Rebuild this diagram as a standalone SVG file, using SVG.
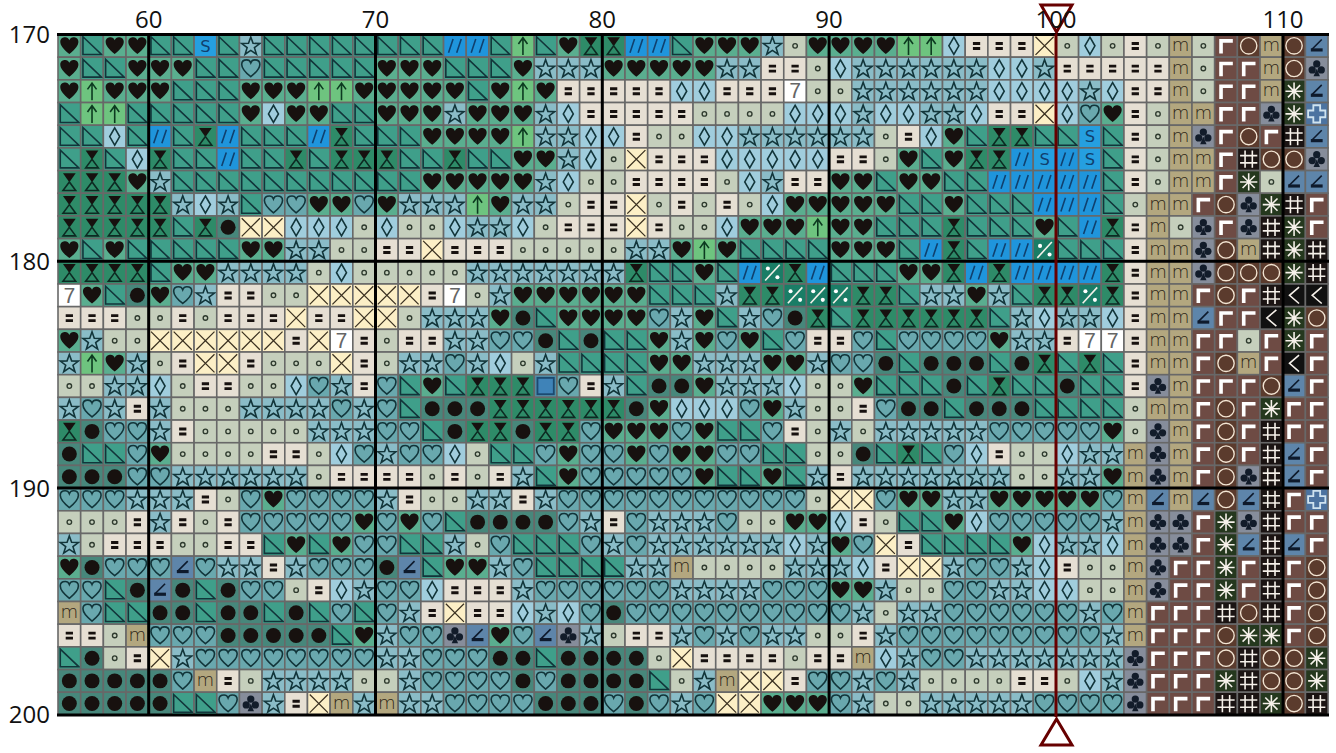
<svg xmlns="http://www.w3.org/2000/svg" width="1336" height="753" viewBox="0 0 1336 753">
<style>
.c{stroke:#686868;stroke-width:.07}
.l{fill:none;stroke:#12353a;stroke-width:.07;stroke-linejoin:miter}
.f{fill:#17110f}
.w{fill:none;stroke:#f6f1ea;stroke-width:.07}
.g{font-family:"Open Sans",sans-serif;font-size:24px;fill:#111}
.t{font-family:"DejaVu Sans",sans-serif;text-anchor:middle}
</style>
<defs>
<path id="hp" d="M.5 .86C.22 .64 .1 .47 .1 .32C.1 .17 .22 .12 .32 .12C.4 .12 .47 .17 .5 .25C.53 .17 .6 .12 .68 .12C.78 .12 .9 .17 .9 .32C.9 .47 .78 .64 .5 .86Z"/>
<g id="H"><rect class="c" width="1" height="1" fill="#5aae8f"/><use href="#hp" class="f"/></g>
<g id="V"><rect class="c" width="1" height="1" fill="#69a8ae"/><use href="#hp" class="l"/></g>
<g id="T"><rect class="c" width="1" height="1" fill="#3f9f8a"/><path class="l" d="M.1 .1V.88H.92Z"/></g>
<g id="A"><rect class="c" width="1" height="1" fill="#6ec47f"/><path class="l" style="stroke:#0c3a20" d="M.5 .9V.14M.3 .42L.5 .14.7 .42"/></g>
<g id="Z"><rect class="c" width="1" height="1" fill="#2e8b68"/><path class="f" d="M.22 .12H.78L.5 .52Z"/><path class="l" style="stroke:#0d2a22" d="M.5 .5L.22 .88H.78Z"/></g>
<g id="D"><rect class="c" width="1" height="1" fill="#a0cddd"/><path class="l" d="M.5 .12L.72 .5.5 .88.28 .5Z"/></g>
<g id="S"><rect class="c" width="1" height="1" fill="#8abcc7"/><path class="l" d="M.5 .11L.6 .39.9 .4.66 .58.75 .87.5 .7.25 .87.34 .58.1 .4.4 .39Z"/></g>
<g id="O"><rect class="c" width="1" height="1" fill="#c5cfbc"/><circle cx=".5" cy=".5" r=".1" fill="none" stroke="#2e3a2e" stroke-width=".06"/></g>
<g id="E"><rect class="c" width="1" height="1" fill="#e6dfd3"/><path class="f" d="M.34 .33H.66V.46H.34ZM.34 .55H.66V.68H.34Z"/></g>
<g id="X"><rect class="c" width="1" height="1" fill="#fcefc6"/><path class="l" style="stroke:#3a3020;stroke-width:.055" d="M.1 .1L.9 .9M.9 .1L.1 .9"/></g>
<g id="N"><rect class="c" width="1" height="1" fill="#fff"/><text x=".5" y=".82" font-size=".95" text-anchor="middle" font-family="Liberation Mono,monospace" fill="#666">7</text></g>
<g id="B"><rect class="c" width="1" height="1" fill="#47877b"/><circle class="f" cx=".5" cy=".5" r=".33"/></g>
<g id="F"><rect class="c" width="1" height="1" fill="#1f95dc"/><path class="l" style="stroke:#10406e" d="M.22 .8L.42 .2M.58 .8L.78 .2"/></g>
<g id="G"><rect class="c" width="1" height="1" fill="#259fe0"/><text class="t" x=".5" y=".76" font-size=".72" fill="#10406e">S</text></g>
<g id="Y"><rect class="c" width="1" height="1" fill="#1a7d66"/><path class="w" d="M.18 .85L.82 .15"/><circle cx=".3" cy=".32" r=".09" fill="#fff"/><circle cx=".72" cy=".7" r=".09" fill="#fff"/></g>
<g id="Q"><rect class="c" width="1" height="1" fill="#4f8ea8"/><rect x=".14" y=".14" width=".72" height=".72" fill="#3f83b8" stroke="#1c4a70" stroke-width=".08"/></g>
<g id="M"><rect class="c" width="1" height="1" fill="#b3a77f"/><text class="t" x=".5" y=".72" font-size=".8" font-weight="200" fill="#2b2416">m</text></g>
<g id="C"><rect class="c" width="1" height="1" fill="#868d9b"/><path fill="#121c2a" d="M.5 .5L.36 .84H.64Z"/><circle fill="#121c2a" cx=".5" cy=".3" r=".16"/><circle fill="#121c2a" cx=".3" cy=".56" r=".16"/><circle fill="#121c2a" cx=".7" cy=".56" r=".16"/></g>
<g id="L"><rect class="c" width="1" height="1" fill="#6e4b44"/><path fill="none" stroke="#fff" stroke-width=".16" d="M.28 .84V.28H.8"/></g>
<g id="R"><rect class="c" width="1" height="1" fill="#5b3b2d"/><circle cx=".5" cy=".5" r=".36" fill="none" stroke="#f3e5d3" stroke-width=".06"/></g>
<g id="W"><rect class="c" width="1" height="1" fill="#25381e"/><path class="w" d="M.5 .12V.88M.12 .5H.88M.23 .23L.77 .77M.77 .23L.23 .77"/></g>
<g id="K"><rect class="c" width="1" height="1" fill="#1b1413"/><path class="w" d="M.34 .12V.88M.66 .12V.88M.12 .34H.88M.12 .66H.88"/></g>
<g id="J"><rect class="c" width="1" height="1" fill="#111"/><path class="w" d="M.72 .14L.3 .5.72 .86"/></g>
<g id="I"><rect class="c" width="1" height="1" fill="#5e85aa"/><path fill="none" stroke="#0e1a2c" stroke-width=".07" d="M.72 .22L.28 .66"/><path fill="none" stroke="#0e1a2c" stroke-width=".14" d="M.24 .68H.76"/></g>
<g id="U"><rect class="c" width="1" height="1" fill="#4c73a0"/><path fill="none" stroke="#cfe3ef" stroke-width=".08" d="M.35 .12H.65V.35H.88V.65H.65V.88H.35V.65H.12V.35H.35Z"/></g>
</defs>
<g transform="translate(58 34.5) scale(22.68)">
<g><use href="#H"/><use href="#T" x="1"/><use href="#H" x="2"/><use href="#H" x="3"/><use href="#T" x="4"/><use href="#T" x="5"/><use href="#G" x="6"/><use href="#T" x="7"/><use href="#S" x="8"/><use href="#T" x="9"/><use href="#T" x="10"/><use href="#T" x="11"/><use href="#T" x="12"/><use href="#T" x="13"/><use href="#T" x="14"/><use href="#T" x="15"/><use href="#T" x="16"/><use href="#F" x="17"/><use href="#F" x="18"/><use href="#T" x="19"/><use href="#A" x="20"/><use href="#T" x="21"/><use href="#H" x="22"/><use href="#Z" x="23"/><use href="#Z" x="24"/><use href="#F" x="25"/><use href="#F" x="26"/><use href="#T" x="27"/><use href="#H" x="28"/><use href="#H" x="29"/><use href="#H" x="30"/><use href="#S" x="31"/><use href="#O" x="32"/><use href="#H" x="33"/><use href="#H" x="34"/><use href="#H" x="35"/><use href="#H" x="36"/><use href="#A" x="37"/><use href="#A" x="38"/><use href="#D" x="39"/><use href="#E" x="40"/><use href="#E" x="41"/><use href="#E" x="42"/><use href="#X" x="43"/><use href="#O" x="44"/><use href="#D" x="45"/><use href="#O" x="46"/><use href="#E" x="47"/><use href="#O" x="48"/><use href="#M" x="49"/><use href="#O" x="50"/><use href="#L" x="51"/><use href="#R" x="52"/><use href="#M" x="53"/><use href="#R" x="54"/><use href="#I" x="55"/></g>
<g transform="translate(0 1)"><use href="#H"/><use href="#T" x="1"/><use href="#T" x="2"/><use href="#H" x="3"/><use href="#H" x="4"/><use href="#H" x="5"/><use href="#T" x="6"/><use href="#T" x="7"/><use href="#V" x="8"/><use href="#T" x="9"/><use href="#T" x="10"/><use href="#T" x="11"/><use href="#T" x="12"/><use href="#T" x="13"/><use href="#H" x="14"/><use href="#H" x="15"/><use href="#H" x="16"/><use href="#T" x="17"/><use href="#T" x="18"/><use href="#T" x="19"/><use href="#H" x="20"/><use href="#S" x="21"/><use href="#S" x="22"/><use href="#S" x="23"/><use href="#H" x="24"/><use href="#H" x="25"/><use href="#H" x="26"/><use href="#H" x="27"/><use href="#H" x="28"/><use href="#S" x="29"/><use href="#S" x="30"/><use href="#E" x="31"/><use href="#E" x="32"/><use href="#O" x="33"/><use href="#D" x="34"/><use href="#S" x="35"/><use href="#S" x="36"/><use href="#S" x="37"/><use href="#S" x="38"/><use href="#S" x="39"/><use href="#S" x="40"/><use href="#D" x="41"/><use href="#D" x="42"/><use href="#S" x="43"/><use href="#E" x="44"/><use href="#E" x="45"/><use href="#E" x="46"/><use href="#E" x="47"/><use href="#E" x="48"/><use href="#M" x="49"/><use href="#O" x="50"/><use href="#L" x="51"/><use href="#L" x="52"/><use href="#M" x="53"/><use href="#R" x="54"/><use href="#C" x="55"/></g>
<g transform="translate(0 2)"><use href="#H"/><use href="#A" x="1"/><use href="#H" x="2"/><use href="#H" x="3"/><use href="#H" x="4"/><use href="#T" x="5"/><use href="#T" x="6"/><use href="#T" x="7"/><use href="#H" x="8"/><use href="#H" x="9"/><use href="#H" x="10"/><use href="#A" x="11"/><use href="#A" x="12"/><use href="#H" x="13"/><use href="#H" x="14"/><use href="#H" x="15"/><use href="#H" x="16"/><use href="#H" x="17"/><use href="#T" x="18"/><use href="#H" x="19"/><use href="#A" x="20"/><use href="#H" x="21"/><use href="#E" x="22"/><use href="#E" x="23"/><use href="#E" x="24"/><use href="#E" x="25"/><use href="#E" x="26"/><use href="#D" x="27"/><use href="#D" x="28"/><use href="#E" x="29"/><use href="#E" x="30"/><use href="#E" x="31"/><use href="#N" x="32"/><use href="#O" x="33"/><use href="#O" x="34"/><use href="#S" x="35"/><use href="#S" x="36"/><use href="#S" x="37"/><use href="#S" x="38"/><use href="#S" x="39"/><use href="#S" x="40"/><use href="#D" x="41"/><use href="#D" x="42"/><use href="#D" x="43"/><use href="#D" x="44"/><use href="#S" x="45"/><use href="#D" x="46"/><use href="#E" x="47"/><use href="#E" x="48"/><use href="#M" x="49"/><use href="#O" x="50"/><use href="#L" x="51"/><use href="#L" x="52"/><use href="#M" x="53"/><use href="#W" x="54"/><use href="#I" x="55"/></g>
<g transform="translate(0 3)"><use href="#T"/><use href="#A" x="1"/><use href="#A" x="2"/><use href="#T" x="3"/><use href="#T" x="4"/><use href="#T" x="5"/><use href="#T" x="6"/><use href="#T" x="7"/><use href="#H" x="8"/><use href="#D" x="9"/><use href="#H" x="10"/><use href="#H" x="11"/><use href="#T" x="12"/><use href="#T" x="13"/><use href="#H" x="14"/><use href="#H" x="15"/><use href="#H" x="16"/><use href="#S" x="17"/><use href="#H" x="18"/><use href="#H" x="19"/><use href="#H" x="20"/><use href="#S" x="21"/><use href="#D" x="22"/><use href="#E" x="23"/><use href="#E" x="24"/><use href="#E" x="25"/><use href="#E" x="26"/><use href="#E" x="27"/><use href="#O" x="28"/><use href="#O" x="29"/><use href="#O" x="30"/><use href="#O" x="31"/><use href="#D" x="32"/><use href="#D" x="33"/><use href="#D" x="34"/><use href="#S" x="35"/><use href="#D" x="36"/><use href="#D" x="37"/><use href="#S" x="38"/><use href="#S" x="39"/><use href="#D" x="40"/><use href="#E" x="41"/><use href="#E" x="42"/><use href="#X" x="43"/><use href="#D" x="44"/><use href="#V" x="45"/><use href="#H" x="46"/><use href="#E" x="47"/><use href="#O" x="48"/><use href="#M" x="49"/><use href="#M" x="50"/><use href="#L" x="51"/><use href="#L" x="52"/><use href="#C" x="53"/><use href="#W" x="54"/><use href="#U" x="55"/></g>
<g transform="translate(0 4)"><use href="#T"/><use href="#T" x="1"/><use href="#D" x="2"/><use href="#T" x="3"/><use href="#F" x="4"/><use href="#T" x="5"/><use href="#Z" x="6"/><use href="#F" x="7"/><use href="#T" x="8"/><use href="#T" x="9"/><use href="#T" x="10"/><use href="#F" x="11"/><use href="#Z" x="12"/><use href="#T" x="13"/><use href="#T" x="14"/><use href="#T" x="15"/><use href="#H" x="16"/><use href="#H" x="17"/><use href="#H" x="18"/><use href="#H" x="19"/><use href="#A" x="20"/><use href="#S" x="21"/><use href="#S" x="22"/><use href="#D" x="23"/><use href="#D" x="24"/><use href="#E" x="25"/><use href="#O" x="26"/><use href="#O" x="27"/><use href="#D" x="28"/><use href="#D" x="29"/><use href="#S" x="30"/><use href="#S" x="31"/><use href="#S" x="32"/><use href="#S" x="33"/><use href="#S" x="34"/><use href="#S" x="35"/><use href="#O" x="36"/><use href="#E" x="37"/><use href="#D" x="38"/><use href="#H" x="39"/><use href="#T" x="40"/><use href="#Z" x="41"/><use href="#Z" x="42"/><use href="#T" x="43"/><use href="#T" x="44"/><use href="#G" x="45"/><use href="#T" x="46"/><use href="#E" x="47"/><use href="#O" x="48"/><use href="#M" x="49"/><use href="#C" x="50"/><use href="#L" x="51"/><use href="#R" x="52"/><use href="#L" x="53"/><use href="#K" x="54"/><use href="#I" x="55"/></g>
<g transform="translate(0 5)"><use href="#T"/><use href="#Z" x="1"/><use href="#T" x="2"/><use href="#D" x="3"/><use href="#Z" x="4"/><use href="#T" x="5"/><use href="#T" x="6"/><use href="#F" x="7"/><use href="#T" x="8"/><use href="#T" x="9"/><use href="#Z" x="10"/><use href="#T" x="11"/><use href="#Z" x="12"/><use href="#Z" x="13"/><use href="#Z" x="14"/><use href="#T" x="15"/><use href="#T" x="16"/><use href="#Z" x="17"/><use href="#T" x="18"/><use href="#T" x="19"/><use href="#H" x="20"/><use href="#H" x="21"/><use href="#S" x="22"/><use href="#D" x="23"/><use href="#O" x="24"/><use href="#X" x="25"/><use href="#E" x="26"/><use href="#E" x="27"/><use href="#E" x="28"/><use href="#D" x="29"/><use href="#D" x="30"/><use href="#D" x="31"/><use href="#D" x="32"/><use href="#D" x="33"/><use href="#E" x="34"/><use href="#E" x="35"/><use href="#O" x="36"/><use href="#H" x="37"/><use href="#T" x="38"/><use href="#H" x="39"/><use href="#Z" x="40"/><use href="#Z" x="41"/><use href="#F" x="42"/><use href="#G" x="43"/><use href="#F" x="44"/><use href="#G" x="45"/><use href="#T" x="46"/><use href="#E" x="47"/><use href="#O" x="48"/><use href="#M" x="49"/><use href="#M" x="50"/><use href="#L" x="51"/><use href="#K" x="52"/><use href="#R" x="53"/><use href="#R" x="54"/><use href="#C" x="55"/></g>
<g transform="translate(0 6)"><use href="#Z"/><use href="#Z" x="1"/><use href="#Z" x="2"/><use href="#H" x="3"/><use href="#S" x="4"/><use href="#T" x="5"/><use href="#T" x="6"/><use href="#T" x="7"/><use href="#T" x="8"/><use href="#T" x="9"/><use href="#T" x="10"/><use href="#T" x="11"/><use href="#T" x="12"/><use href="#T" x="13"/><use href="#T" x="14"/><use href="#T" x="15"/><use href="#H" x="16"/><use href="#H" x="17"/><use href="#H" x="18"/><use href="#H" x="19"/><use href="#H" x="20"/><use href="#S" x="21"/><use href="#D" x="22"/><use href="#O" x="23"/><use href="#O" x="24"/><use href="#E" x="25"/><use href="#E" x="26"/><use href="#E" x="27"/><use href="#E" x="28"/><use href="#O" x="29"/><use href="#D" x="30"/><use href="#S" x="31"/><use href="#E" x="32"/><use href="#E" x="33"/><use href="#H" x="34"/><use href="#H" x="35"/><use href="#T" x="36"/><use href="#H" x="37"/><use href="#H" x="38"/><use href="#T" x="39"/><use href="#T" x="40"/><use href="#F" x="41"/><use href="#F" x="42"/><use href="#F" x="43"/><use href="#F" x="44"/><use href="#F" x="45"/><use href="#T" x="46"/><use href="#E" x="47"/><use href="#O" x="48"/><use href="#M" x="49"/><use href="#M" x="50"/><use href="#L" x="51"/><use href="#W" x="52"/><use href="#O" x="53"/><use href="#I" x="54"/><use href="#I" x="55"/></g>
<g transform="translate(0 7)"><use href="#Z"/><use href="#Z" x="1"/><use href="#Z" x="2"/><use href="#Z" x="3"/><use href="#Z" x="4"/><use href="#S" x="5"/><use href="#D" x="6"/><use href="#S" x="7"/><use href="#T" x="8"/><use href="#V" x="9"/><use href="#V" x="10"/><use href="#H" x="11"/><use href="#H" x="12"/><use href="#V" x="13"/><use href="#H" x="14"/><use href="#S" x="15"/><use href="#S" x="16"/><use href="#S" x="17"/><use href="#A" x="18"/><use href="#H" x="19"/><use href="#S" x="20"/><use href="#S" x="21"/><use href="#O" x="22"/><use href="#E" x="23"/><use href="#E" x="24"/><use href="#X" x="25"/><use href="#O" x="26"/><use href="#E" x="27"/><use href="#O" x="28"/><use href="#E" x="29"/><use href="#O" x="30"/><use href="#D" x="31"/><use href="#H" x="32"/><use href="#H" x="33"/><use href="#H" x="34"/><use href="#H" x="35"/><use href="#H" x="36"/><use href="#T" x="37"/><use href="#T" x="38"/><use href="#H" x="39"/><use href="#T" x="40"/><use href="#T" x="41"/><use href="#T" x="42"/><use href="#F" x="43"/><use href="#F" x="44"/><use href="#F" x="45"/><use href="#T" x="46"/><use href="#O" x="47"/><use href="#M" x="48"/><use href="#M" x="49"/><use href="#L" x="50"/><use href="#R" x="51"/><use href="#C" x="52"/><use href="#W" x="53"/><use href="#K" x="54"/><use href="#L" x="55"/></g>
<g transform="translate(0 8)"><use href="#Z"/><use href="#Z" x="1"/><use href="#Z" x="2"/><use href="#Z" x="3"/><use href="#Z" x="4"/><use href="#T" x="5"/><use href="#Z" x="6"/><use href="#B" x="7"/><use href="#X" x="8"/><use href="#X" x="9"/><use href="#D" x="10"/><use href="#D" x="11"/><use href="#D" x="12"/><use href="#O" x="13"/><use href="#D" x="14"/><use href="#O" x="15"/><use href="#O" x="16"/><use href="#D" x="17"/><use href="#S" x="18"/><use href="#S" x="19"/><use href="#D" x="20"/><use href="#O" x="21"/><use href="#E" x="22"/><use href="#E" x="23"/><use href="#E" x="24"/><use href="#X" x="25"/><use href="#E" x="26"/><use href="#O" x="27"/><use href="#O" x="28"/><use href="#D" x="29"/><use href="#H" x="30"/><use href="#H" x="31"/><use href="#H" x="32"/><use href="#A" x="33"/><use href="#H" x="34"/><use href="#H" x="35"/><use href="#T" x="36"/><use href="#T" x="37"/><use href="#T" x="38"/><use href="#Z" x="39"/><use href="#T" x="40"/><use href="#T" x="41"/><use href="#T" x="42"/><use href="#H" x="43"/><use href="#T" x="44"/><use href="#F" x="45"/><use href="#Z" x="46"/><use href="#E" x="47"/><use href="#M" x="48"/><use href="#O" x="49"/><use href="#C" x="50"/><use href="#L" x="51"/><use href="#C" x="52"/><use href="#K" x="53"/><use href="#W" x="54"/><use href="#L" x="55"/></g>
<g transform="translate(0 9)"><use href="#H"/><use href="#T" x="1"/><use href="#H" x="2"/><use href="#T" x="3"/><use href="#T" x="4"/><use href="#T" x="5"/><use href="#T" x="6"/><use href="#T" x="7"/><use href="#H" x="8"/><use href="#H" x="9"/><use href="#S" x="10"/><use href="#S" x="11"/><use href="#O" x="12"/><use href="#O" x="13"/><use href="#E" x="14"/><use href="#E" x="15"/><use href="#X" x="16"/><use href="#E" x="17"/><use href="#E" x="18"/><use href="#E" x="19"/><use href="#O" x="20"/><use href="#O" x="21"/><use href="#O" x="22"/><use href="#O" x="23"/><use href="#O" x="24"/><use href="#S" x="25"/><use href="#S" x="26"/><use href="#H" x="27"/><use href="#A" x="28"/><use href="#H" x="29"/><use href="#T" x="30"/><use href="#T" x="31"/><use href="#T" x="32"/><use href="#T" x="33"/><use href="#H" x="34"/><use href="#H" x="35"/><use href="#H" x="36"/><use href="#T" x="37"/><use href="#F" x="38"/><use href="#Z" x="39"/><use href="#T" x="40"/><use href="#F" x="41"/><use href="#F" x="42"/><use href="#Y" x="43"/><use href="#T" x="44"/><use href="#T" x="45"/><use href="#T" x="46"/><use href="#E" x="47"/><use href="#M" x="48"/><use href="#M" x="49"/><use href="#C" x="50"/><use href="#R" x="51"/><use href="#M" x="52"/><use href="#K" x="53"/><use href="#W" x="54"/><use href="#K" x="55"/></g>
<g transform="translate(0 10)"><use href="#Z"/><use href="#Z" x="1"/><use href="#Z" x="2"/><use href="#Z" x="3"/><use href="#T" x="4"/><use href="#H" x="5"/><use href="#H" x="6"/><use href="#S" x="7"/><use href="#S" x="8"/><use href="#S" x="9"/><use href="#S" x="10"/><use href="#O" x="11"/><use href="#D" x="12"/><use href="#O" x="13"/><use href="#O" x="14"/><use href="#O" x="15"/><use href="#O" x="16"/><use href="#O" x="17"/><use href="#S" x="18"/><use href="#S" x="19"/><use href="#S" x="20"/><use href="#S" x="21"/><use href="#S" x="22"/><use href="#S" x="23"/><use href="#S" x="24"/><use href="#Z" x="25"/><use href="#T" x="26"/><use href="#T" x="27"/><use href="#H" x="28"/><use href="#T" x="29"/><use href="#F" x="30"/><use href="#Y" x="31"/><use href="#Z" x="32"/><use href="#F" x="33"/><use href="#T" x="34"/><use href="#T" x="35"/><use href="#T" x="36"/><use href="#H" x="37"/><use href="#H" x="38"/><use href="#Z" x="39"/><use href="#F" x="40"/><use href="#Z" x="41"/><use href="#F" x="42"/><use href="#F" x="43"/><use href="#F" x="44"/><use href="#F" x="45"/><use href="#Z" x="46"/><use href="#E" x="47"/><use href="#M" x="48"/><use href="#M" x="49"/><use href="#C" x="50"/><use href="#R" x="51"/><use href="#R" x="52"/><use href="#R" x="53"/><use href="#W" x="54"/><use href="#K" x="55"/></g>
<g transform="translate(0 11)"><use href="#N"/><use href="#H" x="1"/><use href="#T" x="2"/><use href="#B" x="3"/><use href="#H" x="4"/><use href="#V" x="5"/><use href="#S" x="6"/><use href="#E" x="7"/><use href="#E" x="8"/><use href="#O" x="9"/><use href="#O" x="10"/><use href="#X" x="11"/><use href="#X" x="12"/><use href="#X" x="13"/><use href="#X" x="14"/><use href="#X" x="15"/><use href="#E" x="16"/><use href="#N" x="17"/><use href="#O" x="18"/><use href="#S" x="19"/><use href="#H" x="20"/><use href="#H" x="21"/><use href="#H" x="22"/><use href="#H" x="23"/><use href="#H" x="24"/><use href="#H" x="25"/><use href="#T" x="26"/><use href="#T" x="27"/><use href="#T" x="28"/><use href="#S" x="29"/><use href="#Z" x="30"/><use href="#Z" x="31"/><use href="#Y" x="32"/><use href="#Y" x="33"/><use href="#Y" x="34"/><use href="#Z" x="35"/><use href="#Z" x="36"/><use href="#T" x="37"/><use href="#S" x="38"/><use href="#S" x="39"/><use href="#H" x="40"/><use href="#S" x="41"/><use href="#T" x="42"/><use href="#Z" x="43"/><use href="#Z" x="44"/><use href="#Y" x="45"/><use href="#Z" x="46"/><use href="#E" x="47"/><use href="#M" x="48"/><use href="#M" x="49"/><use href="#L" x="50"/><use href="#R" x="51"/><use href="#L" x="52"/><use href="#K" x="53"/><use href="#J" x="54"/><use href="#J" x="55"/></g>
<g transform="translate(0 12)"><use href="#E"/><use href="#E" x="1"/><use href="#E" x="2"/><use href="#O" x="3"/><use href="#O" x="4"/><use href="#E" x="5"/><use href="#O" x="6"/><use href="#E" x="7"/><use href="#E" x="8"/><use href="#E" x="9"/><use href="#X" x="10"/><use href="#E" x="11"/><use href="#E" x="12"/><use href="#X" x="13"/><use href="#X" x="14"/><use href="#O" x="15"/><use href="#S" x="16"/><use href="#S" x="17"/><use href="#S" x="18"/><use href="#H" x="19"/><use href="#B" x="20"/><use href="#T" x="21"/><use href="#H" x="22"/><use href="#H" x="23"/><use href="#H" x="24"/><use href="#H" x="25"/><use href="#V" x="26"/><use href="#S" x="27"/><use href="#H" x="28"/><use href="#T" x="29"/><use href="#S" x="30"/><use href="#V" x="31"/><use href="#B" x="32"/><use href="#Z" x="33"/><use href="#T" x="34"/><use href="#Z" x="35"/><use href="#Z" x="36"/><use href="#Z" x="37"/><use href="#Z" x="38"/><use href="#Z" x="39"/><use href="#Z" x="40"/><use href="#T" x="41"/><use href="#S" x="42"/><use href="#D" x="43"/><use href="#S" x="44"/><use href="#S" x="45"/><use href="#D" x="46"/><use href="#E" x="47"/><use href="#M" x="48"/><use href="#M" x="49"/><use href="#I" x="50"/><use href="#L" x="51"/><use href="#L" x="52"/><use href="#J" x="53"/><use href="#W" x="54"/><use href="#R" x="55"/></g>
<g transform="translate(0 13)"><use href="#H"/><use href="#S" x="1"/><use href="#O" x="2"/><use href="#O" x="3"/><use href="#X" x="4"/><use href="#X" x="5"/><use href="#X" x="6"/><use href="#X" x="7"/><use href="#X" x="8"/><use href="#X" x="9"/><use href="#E" x="10"/><use href="#X" x="11"/><use href="#N" x="12"/><use href="#E" x="13"/><use href="#O" x="14"/><use href="#E" x="15"/><use href="#E" x="16"/><use href="#S" x="17"/><use href="#S" x="18"/><use href="#V" x="19"/><use href="#V" x="20"/><use href="#B" x="21"/><use href="#T" x="22"/><use href="#B" x="23"/><use href="#T" x="24"/><use href="#T" x="25"/><use href="#H" x="26"/><use href="#S" x="27"/><use href="#H" x="28"/><use href="#V" x="29"/><use href="#H" x="30"/><use href="#T" x="31"/><use href="#V" x="32"/><use href="#E" x="33"/><use href="#E" x="34"/><use href="#V" x="35"/><use href="#T" x="36"/><use href="#V" x="37"/><use href="#V" x="38"/><use href="#V" x="39"/><use href="#V" x="40"/><use href="#H" x="41"/><use href="#S" x="42"/><use href="#S" x="43"/><use href="#E" x="44"/><use href="#N" x="45"/><use href="#N" x="46"/><use href="#E" x="47"/><use href="#M" x="48"/><use href="#M" x="49"/><use href="#L" x="50"/><use href="#L" x="51"/><use href="#O" x="52"/><use href="#L" x="53"/><use href="#W" x="54"/><use href="#L" x="55"/></g>
<g transform="translate(0 14)"><use href="#S"/><use href="#A" x="1"/><use href="#H" x="2"/><use href="#S" x="3"/><use href="#O" x="4"/><use href="#E" x="5"/><use href="#X" x="6"/><use href="#X" x="7"/><use href="#E" x="8"/><use href="#O" x="9"/><use href="#O" x="10"/><use href="#O" x="11"/><use href="#X" x="12"/><use href="#E" x="13"/><use href="#O" x="14"/><use href="#S" x="15"/><use href="#S" x="16"/><use href="#V" x="17"/><use href="#S" x="18"/><use href="#D" x="19"/><use href="#O" x="20"/><use href="#S" x="21"/><use href="#T" x="22"/><use href="#T" x="23"/><use href="#T" x="24"/><use href="#T" x="25"/><use href="#H" x="26"/><use href="#H" x="27"/><use href="#S" x="28"/><use href="#S" x="29"/><use href="#S" x="30"/><use href="#H" x="31"/><use href="#H" x="32"/><use href="#S" x="33"/><use href="#V" x="34"/><use href="#V" x="35"/><use href="#B" x="36"/><use href="#T" x="37"/><use href="#B" x="38"/><use href="#B" x="39"/><use href="#B" x="40"/><use href="#T" x="41"/><use href="#B" x="42"/><use href="#Z" x="43"/><use href="#T" x="44"/><use href="#Z" x="45"/><use href="#T" x="46"/><use href="#E" x="47"/><use href="#M" x="48"/><use href="#M" x="49"/><use href="#L" x="50"/><use href="#R" x="51"/><use href="#M" x="52"/><use href="#L" x="53"/><use href="#J" x="54"/><use href="#L" x="55"/></g>
<g transform="translate(0 15)"><use href="#O"/><use href="#O" x="1"/><use href="#S" x="2"/><use href="#S" x="3"/><use href="#D" x="4"/><use href="#O" x="5"/><use href="#E" x="6"/><use href="#E" x="7"/><use href="#O" x="8"/><use href="#O" x="9"/><use href="#D" x="10"/><use href="#V" x="11"/><use href="#S" x="12"/><use href="#E" x="13"/><use href="#V" x="14"/><use href="#T" x="15"/><use href="#H" x="16"/><use href="#T" x="17"/><use href="#Z" x="18"/><use href="#Z" x="19"/><use href="#Z" x="20"/><use href="#Q" x="21"/><use href="#V" x="22"/><use href="#E" x="23"/><use href="#S" x="24"/><use href="#T" x="25"/><use href="#B" x="26"/><use href="#B" x="27"/><use href="#H" x="28"/><use href="#S" x="29"/><use href="#S" x="30"/><use href="#S" x="31"/><use href="#D" x="32"/><use href="#O" x="33"/><use href="#O" x="34"/><use href="#H" x="35"/><use href="#T" x="36"/><use href="#T" x="37"/><use href="#T" x="38"/><use href="#B" x="39"/><use href="#T" x="40"/><use href="#Z" x="41"/><use href="#T" x="42"/><use href="#T" x="43"/><use href="#B" x="44"/><use href="#T" x="45"/><use href="#T" x="46"/><use href="#E" x="47"/><use href="#C" x="48"/><use href="#M" x="49"/><use href="#L" x="50"/><use href="#L" x="51"/><use href="#L" x="52"/><use href="#R" x="53"/><use href="#I" x="54"/><use href="#L" x="55"/></g>
<g transform="translate(0 16)"><use href="#S"/><use href="#V" x="1"/><use href="#S" x="2"/><use href="#E" x="3"/><use href="#S" x="4"/><use href="#O" x="5"/><use href="#O" x="6"/><use href="#O" x="7"/><use href="#S" x="8"/><use href="#S" x="9"/><use href="#S" x="10"/><use href="#S" x="11"/><use href="#V" x="12"/><use href="#S" x="13"/><use href="#V" x="14"/><use href="#T" x="15"/><use href="#B" x="16"/><use href="#B" x="17"/><use href="#B" x="18"/><use href="#Z" x="19"/><use href="#Z" x="20"/><use href="#Z" x="21"/><use href="#Z" x="22"/><use href="#Z" x="23"/><use href="#Z" x="24"/><use href="#B" x="25"/><use href="#H" x="26"/><use href="#D" x="27"/><use href="#D" x="28"/><use href="#D" x="29"/><use href="#V" x="30"/><use href="#H" x="31"/><use href="#S" x="32"/><use href="#O" x="33"/><use href="#O" x="34"/><use href="#E" x="35"/><use href="#V" x="36"/><use href="#B" x="37"/><use href="#B" x="38"/><use href="#T" x="39"/><use href="#B" x="40"/><use href="#B" x="41"/><use href="#B" x="42"/><use href="#T" x="43"/><use href="#T" x="44"/><use href="#T" x="45"/><use href="#T" x="46"/><use href="#O" x="47"/><use href="#M" x="48"/><use href="#M" x="49"/><use href="#L" x="50"/><use href="#R" x="51"/><use href="#L" x="52"/><use href="#W" x="53"/><use href="#L" x="54"/><use href="#L" x="55"/></g>
<g transform="translate(0 17)"><use href="#Z"/><use href="#B" x="1"/><use href="#V" x="2"/><use href="#V" x="3"/><use href="#S" x="4"/><use href="#E" x="5"/><use href="#O" x="6"/><use href="#O" x="7"/><use href="#O" x="8"/><use href="#O" x="9"/><use href="#O" x="10"/><use href="#S" x="11"/><use href="#S" x="12"/><use href="#S" x="13"/><use href="#V" x="14"/><use href="#V" x="15"/><use href="#T" x="16"/><use href="#B" x="17"/><use href="#Z" x="18"/><use href="#Z" x="19"/><use href="#B" x="20"/><use href="#Z" x="21"/><use href="#Z" x="22"/><use href="#V" x="23"/><use href="#H" x="24"/><use href="#H" x="25"/><use href="#H" x="26"/><use href="#V" x="27"/><use href="#H" x="28"/><use href="#T" x="29"/><use href="#T" x="30"/><use href="#V" x="31"/><use href="#E" x="32"/><use href="#O" x="33"/><use href="#S" x="34"/><use href="#O" x="35"/><use href="#S" x="36"/><use href="#S" x="37"/><use href="#S" x="38"/><use href="#S" x="39"/><use href="#S" x="40"/><use href="#V" x="41"/><use href="#V" x="42"/><use href="#V" x="43"/><use href="#V" x="44"/><use href="#V" x="45"/><use href="#H" x="46"/><use href="#O" x="47"/><use href="#C" x="48"/><use href="#M" x="49"/><use href="#L" x="50"/><use href="#R" x="51"/><use href="#L" x="52"/><use href="#K" x="53"/><use href="#L" x="54"/><use href="#L" x="55"/></g>
<g transform="translate(0 18)"><use href="#B"/><use href="#T" x="1"/><use href="#T" x="2"/><use href="#V" x="3"/><use href="#H" x="4"/><use href="#O" x="5"/><use href="#O" x="6"/><use href="#O" x="7"/><use href="#O" x="8"/><use href="#E" x="9"/><use href="#E" x="10"/><use href="#O" x="11"/><use href="#D" x="12"/><use href="#V" x="13"/><use href="#S" x="14"/><use href="#V" x="15"/><use href="#V" x="16"/><use href="#D" x="17"/><use href="#O" x="18"/><use href="#T" x="19"/><use href="#T" x="20"/><use href="#V" x="21"/><use href="#H" x="22"/><use href="#V" x="23"/><use href="#V" x="24"/><use href="#H" x="25"/><use href="#V" x="26"/><use href="#H" x="27"/><use href="#H" x="28"/><use href="#V" x="29"/><use href="#V" x="30"/><use href="#T" x="31"/><use href="#T" x="32"/><use href="#O" x="33"/><use href="#O" x="34"/><use href="#B" x="35"/><use href="#T" x="36"/><use href="#Z" x="37"/><use href="#T" x="38"/><use href="#V" x="39"/><use href="#D" x="40"/><use href="#E" x="41"/><use href="#O" x="42"/><use href="#O" x="43"/><use href="#D" x="44"/><use href="#S" x="45"/><use href="#S" x="46"/><use href="#M" x="47"/><use href="#C" x="48"/><use href="#M" x="49"/><use href="#L" x="50"/><use href="#R" x="51"/><use href="#L" x="52"/><use href="#K" x="53"/><use href="#I" x="54"/><use href="#L" x="55"/></g>
<g transform="translate(0 19)"><use href="#B"/><use href="#B" x="1"/><use href="#B" x="2"/><use href="#V" x="3"/><use href="#V" x="4"/><use href="#S" x="5"/><use href="#S" x="6"/><use href="#S" x="7"/><use href="#S" x="8"/><use href="#S" x="9"/><use href="#S" x="10"/><use href="#O" x="11"/><use href="#E" x="12"/><use href="#E" x="13"/><use href="#E" x="14"/><use href="#E" x="15"/><use href="#O" x="16"/><use href="#E" x="17"/><use href="#O" x="18"/><use href="#E" x="19"/><use href="#S" x="20"/><use href="#T" x="21"/><use href="#H" x="22"/><use href="#V" x="23"/><use href="#V" x="24"/><use href="#V" x="25"/><use href="#V" x="26"/><use href="#V" x="27"/><use href="#H" x="28"/><use href="#T" x="29"/><use href="#T" x="30"/><use href="#H" x="31"/><use href="#T" x="32"/><use href="#S" x="33"/><use href="#E" x="34"/><use href="#S" x="35"/><use href="#S" x="36"/><use href="#S" x="37"/><use href="#S" x="38"/><use href="#S" x="39"/><use href="#S" x="40"/><use href="#S" x="41"/><use href="#O" x="42"/><use href="#O" x="43"/><use href="#S" x="44"/><use href="#S" x="45"/><use href="#H" x="46"/><use href="#M" x="47"/><use href="#C" x="48"/><use href="#M" x="49"/><use href="#L" x="50"/><use href="#R" x="51"/><use href="#C" x="52"/><use href="#K" x="53"/><use href="#I" x="54"/><use href="#L" x="55"/></g>
<g transform="translate(0 20)"><use href="#V"/><use href="#V" x="1"/><use href="#V" x="2"/><use href="#S" x="3"/><use href="#S" x="4"/><use href="#S" x="5"/><use href="#E" x="6"/><use href="#O" x="7"/><use href="#V" x="8"/><use href="#H" x="9"/><use href="#V" x="10"/><use href="#V" x="11"/><use href="#V" x="12"/><use href="#V" x="13"/><use href="#S" x="14"/><use href="#E" x="15"/><use href="#O" x="16"/><use href="#O" x="17"/><use href="#S" x="18"/><use href="#S" x="19"/><use href="#E" x="20"/><use href="#S" x="21"/><use href="#V" x="22"/><use href="#V" x="23"/><use href="#V" x="24"/><use href="#V" x="25"/><use href="#V" x="26"/><use href="#V" x="27"/><use href="#V" x="28"/><use href="#V" x="29"/><use href="#V" x="30"/><use href="#V" x="31"/><use href="#V" x="32"/><use href="#O" x="33"/><use href="#X" x="34"/><use href="#X" x="35"/><use href="#V" x="36"/><use href="#H" x="37"/><use href="#H" x="38"/><use href="#S" x="39"/><use href="#S" x="40"/><use href="#H" x="41"/><use href="#H" x="42"/><use href="#H" x="43"/><use href="#H" x="44"/><use href="#H" x="45"/><use href="#V" x="46"/><use href="#M" x="47"/><use href="#I" x="48"/><use href="#M" x="49"/><use href="#I" x="50"/><use href="#R" x="51"/><use href="#I" x="52"/><use href="#K" x="53"/><use href="#L" x="54"/><use href="#U" x="55"/></g>
<g transform="translate(0 21)"><use href="#O"/><use href="#O" x="1"/><use href="#O" x="2"/><use href="#E" x="3"/><use href="#S" x="4"/><use href="#E" x="5"/><use href="#O" x="6"/><use href="#E" x="7"/><use href="#V" x="8"/><use href="#V" x="9"/><use href="#V" x="10"/><use href="#V" x="11"/><use href="#V" x="12"/><use href="#H" x="13"/><use href="#V" x="14"/><use href="#H" x="15"/><use href="#V" x="16"/><use href="#T" x="17"/><use href="#B" x="18"/><use href="#B" x="19"/><use href="#B" x="20"/><use href="#B" x="21"/><use href="#V" x="22"/><use href="#S" x="23"/><use href="#E" x="24"/><use href="#V" x="25"/><use href="#S" x="26"/><use href="#S" x="27"/><use href="#S" x="28"/><use href="#V" x="29"/><use href="#O" x="30"/><use href="#O" x="31"/><use href="#H" x="32"/><use href="#H" x="33"/><use href="#D" x="34"/><use href="#E" x="35"/><use href="#O" x="36"/><use href="#T" x="37"/><use href="#T" x="38"/><use href="#H" x="39"/><use href="#D" x="40"/><use href="#V" x="41"/><use href="#V" x="42"/><use href="#V" x="43"/><use href="#V" x="44"/><use href="#V" x="45"/><use href="#S" x="46"/><use href="#M" x="47"/><use href="#C" x="48"/><use href="#C" x="49"/><use href="#L" x="50"/><use href="#W" x="51"/><use href="#C" x="52"/><use href="#K" x="53"/><use href="#L" x="54"/><use href="#L" x="55"/></g>
<g transform="translate(0 22)"><use href="#S"/><use href="#O" x="1"/><use href="#E" x="2"/><use href="#E" x="3"/><use href="#E" x="4"/><use href="#O" x="5"/><use href="#O" x="6"/><use href="#E" x="7"/><use href="#E" x="8"/><use href="#T" x="9"/><use href="#H" x="10"/><use href="#T" x="11"/><use href="#H" x="12"/><use href="#V" x="13"/><use href="#V" x="14"/><use href="#T" x="15"/><use href="#T" x="16"/><use href="#S" x="17"/><use href="#O" x="18"/><use href="#V" x="19"/><use href="#T" x="20"/><use href="#T" x="21"/><use href="#T" x="22"/><use href="#V" x="23"/><use href="#S" x="24"/><use href="#V" x="25"/><use href="#S" x="26"/><use href="#S" x="27"/><use href="#S" x="28"/><use href="#S" x="29"/><use href="#S" x="30"/><use href="#S" x="31"/><use href="#D" x="32"/><use href="#S" x="33"/><use href="#H" x="34"/><use href="#V" x="35"/><use href="#X" x="36"/><use href="#E" x="37"/><use href="#T" x="38"/><use href="#T" x="39"/><use href="#T" x="40"/><use href="#T" x="41"/><use href="#H" x="42"/><use href="#D" x="43"/><use href="#S" x="44"/><use href="#S" x="45"/><use href="#D" x="46"/><use href="#M" x="47"/><use href="#C" x="48"/><use href="#C" x="49"/><use href="#L" x="50"/><use href="#W" x="51"/><use href="#I" x="52"/><use href="#K" x="53"/><use href="#I" x="54"/><use href="#L" x="55"/></g>
<g transform="translate(0 23)"><use href="#H"/><use href="#B" x="1"/><use href="#V" x="2"/><use href="#V" x="3"/><use href="#V" x="4"/><use href="#I" x="5"/><use href="#V" x="6"/><use href="#S" x="7"/><use href="#S" x="8"/><use href="#E" x="9"/><use href="#S" x="10"/><use href="#V" x="11"/><use href="#V" x="12"/><use href="#V" x="13"/><use href="#B" x="14"/><use href="#I" x="15"/><use href="#T" x="16"/><use href="#H" x="17"/><use href="#H" x="18"/><use href="#S" x="19"/><use href="#V" x="20"/><use href="#T" x="21"/><use href="#T" x="22"/><use href="#T" x="23"/><use href="#T" x="24"/><use href="#S" x="25"/><use href="#S" x="26"/><use href="#M" x="27"/><use href="#O" x="28"/><use href="#O" x="29"/><use href="#O" x="30"/><use href="#O" x="31"/><use href="#S" x="32"/><use href="#S" x="33"/><use href="#S" x="34"/><use href="#D" x="35"/><use href="#E" x="36"/><use href="#X" x="37"/><use href="#X" x="38"/><use href="#S" x="39"/><use href="#V" x="40"/><use href="#V" x="41"/><use href="#S" x="42"/><use href="#D" x="43"/><use href="#E" x="44"/><use href="#O" x="45"/><use href="#O" x="46"/><use href="#M" x="47"/><use href="#C" x="48"/><use href="#L" x="49"/><use href="#L" x="50"/><use href="#W" x="51"/><use href="#L" x="52"/><use href="#K" x="53"/><use href="#L" x="54"/><use href="#R" x="55"/></g>
<g transform="translate(0 24)"><use href="#V"/><use href="#V" x="1"/><use href="#T" x="2"/><use href="#B" x="3"/><use href="#I" x="4"/><use href="#B" x="5"/><use href="#T" x="6"/><use href="#B" x="7"/><use href="#V" x="8"/><use href="#V" x="9"/><use href="#O" x="10"/><use href="#E" x="11"/><use href="#D" x="12"/><use href="#S" x="13"/><use href="#V" x="14"/><use href="#V" x="15"/><use href="#D" x="16"/><use href="#E" x="17"/><use href="#E" x="18"/><use href="#E" x="19"/><use href="#S" x="20"/><use href="#V" x="21"/><use href="#V" x="22"/><use href="#V" x="23"/><use href="#V" x="24"/><use href="#V" x="25"/><use href="#V" x="26"/><use href="#S" x="27"/><use href="#S" x="28"/><use href="#S" x="29"/><use href="#S" x="30"/><use href="#V" x="31"/><use href="#V" x="32"/><use href="#V" x="33"/><use href="#H" x="34"/><use href="#H" x="35"/><use href="#S" x="36"/><use href="#O" x="37"/><use href="#O" x="38"/><use href="#V" x="39"/><use href="#V" x="40"/><use href="#S" x="41"/><use href="#S" x="42"/><use href="#D" x="43"/><use href="#D" x="44"/><use href="#O" x="45"/><use href="#O" x="46"/><use href="#M" x="47"/><use href="#C" x="48"/><use href="#L" x="49"/><use href="#L" x="50"/><use href="#W" x="51"/><use href="#L" x="52"/><use href="#K" x="53"/><use href="#L" x="54"/><use href="#R" x="55"/></g>
<g transform="translate(0 25)"><use href="#M"/><use href="#V" x="1"/><use href="#T" x="2"/><use href="#T" x="3"/><use href="#B" x="4"/><use href="#B" x="5"/><use href="#T" x="6"/><use href="#B" x="7"/><use href="#B" x="8"/><use href="#T" x="9"/><use href="#B" x="10"/><use href="#T" x="11"/><use href="#V" x="12"/><use href="#T" x="13"/><use href="#V" x="14"/><use href="#S" x="15"/><use href="#E" x="16"/><use href="#X" x="17"/><use href="#E" x="18"/><use href="#E" x="19"/><use href="#D" x="20"/><use href="#S" x="21"/><use href="#D" x="22"/><use href="#V" x="23"/><use href="#B" x="24"/><use href="#V" x="25"/><use href="#V" x="26"/><use href="#V" x="27"/><use href="#V" x="28"/><use href="#V" x="29"/><use href="#V" x="30"/><use href="#V" x="31"/><use href="#V" x="32"/><use href="#V" x="33"/><use href="#V" x="34"/><use href="#S" x="35"/><use href="#O" x="36"/><use href="#S" x="37"/><use href="#S" x="38"/><use href="#V" x="39"/><use href="#V" x="40"/><use href="#V" x="41"/><use href="#V" x="42"/><use href="#V" x="43"/><use href="#V" x="44"/><use href="#S" x="45"/><use href="#V" x="46"/><use href="#M" x="47"/><use href="#L" x="48"/><use href="#L" x="49"/><use href="#L" x="50"/><use href="#K" x="51"/><use href="#R" x="52"/><use href="#K" x="53"/><use href="#L" x="54"/><use href="#R" x="55"/></g>
<g transform="translate(0 26)"><use href="#E"/><use href="#E" x="1"/><use href="#O" x="2"/><use href="#M" x="3"/><use href="#V" x="4"/><use href="#V" x="5"/><use href="#V" x="6"/><use href="#B" x="7"/><use href="#B" x="8"/><use href="#B" x="9"/><use href="#B" x="10"/><use href="#B" x="11"/><use href="#T" x="12"/><use href="#H" x="13"/><use href="#S" x="14"/><use href="#V" x="15"/><use href="#V" x="16"/><use href="#C" x="17"/><use href="#I" x="18"/><use href="#H" x="19"/><use href="#V" x="20"/><use href="#I" x="21"/><use href="#C" x="22"/><use href="#S" x="23"/><use href="#O" x="24"/><use href="#E" x="25"/><use href="#E" x="26"/><use href="#S" x="27"/><use href="#V" x="28"/><use href="#S" x="29"/><use href="#V" x="30"/><use href="#S" x="31"/><use href="#S" x="32"/><use href="#O" x="33"/><use href="#O" x="34"/><use href="#E" x="35"/><use href="#S" x="36"/><use href="#V" x="37"/><use href="#V" x="38"/><use href="#V" x="39"/><use href="#V" x="40"/><use href="#V" x="41"/><use href="#V" x="42"/><use href="#V" x="43"/><use href="#V" x="44"/><use href="#V" x="45"/><use href="#S" x="46"/><use href="#M" x="47"/><use href="#L" x="48"/><use href="#L" x="49"/><use href="#L" x="50"/><use href="#R" x="51"/><use href="#W" x="52"/><use href="#W" x="53"/><use href="#L" x="54"/><use href="#R" x="55"/></g>
<g transform="translate(0 27)"><use href="#T"/><use href="#B" x="1"/><use href="#O" x="2"/><use href="#E" x="3"/><use href="#X" x="4"/><use href="#S" x="5"/><use href="#V" x="6"/><use href="#V" x="7"/><use href="#V" x="8"/><use href="#V" x="9"/><use href="#V" x="10"/><use href="#V" x="11"/><use href="#V" x="12"/><use href="#V" x="13"/><use href="#S" x="14"/><use href="#S" x="15"/><use href="#V" x="16"/><use href="#V" x="17"/><use href="#V" x="18"/><use href="#B" x="19"/><use href="#B" x="20"/><use href="#T" x="21"/><use href="#B" x="22"/><use href="#B" x="23"/><use href="#B" x="24"/><use href="#B" x="25"/><use href="#O" x="26"/><use href="#X" x="27"/><use href="#E" x="28"/><use href="#E" x="29"/><use href="#E" x="30"/><use href="#E" x="31"/><use href="#O" x="32"/><use href="#E" x="33"/><use href="#E" x="34"/><use href="#M" x="35"/><use href="#D" x="36"/><use href="#S" x="37"/><use href="#V" x="38"/><use href="#V" x="39"/><use href="#S" x="40"/><use href="#S" x="41"/><use href="#S" x="42"/><use href="#S" x="43"/><use href="#S" x="44"/><use href="#S" x="45"/><use href="#S" x="46"/><use href="#C" x="47"/><use href="#L" x="48"/><use href="#L" x="49"/><use href="#L" x="50"/><use href="#R" x="51"/><use href="#K" x="52"/><use href="#R" x="53"/><use href="#R" x="54"/><use href="#W" x="55"/></g>
<g transform="translate(0 28)"><use href="#B"/><use href="#B" x="1"/><use href="#B" x="2"/><use href="#B" x="3"/><use href="#B" x="4"/><use href="#V" x="5"/><use href="#M" x="6"/><use href="#E" x="7"/><use href="#O" x="8"/><use href="#S" x="9"/><use href="#S" x="10"/><use href="#S" x="11"/><use href="#S" x="12"/><use href="#O" x="13"/><use href="#O" x="14"/><use href="#S" x="15"/><use href="#V" x="16"/><use href="#V" x="17"/><use href="#V" x="18"/><use href="#V" x="19"/><use href="#B" x="20"/><use href="#V" x="21"/><use href="#B" x="22"/><use href="#B" x="23"/><use href="#B" x="24"/><use href="#B" x="25"/><use href="#T" x="26"/><use href="#O" x="27"/><use href="#S" x="28"/><use href="#M" x="29"/><use href="#X" x="30"/><use href="#X" x="31"/><use href="#E" x="32"/><use href="#V" x="33"/><use href="#V" x="34"/><use href="#S" x="35"/><use href="#V" x="36"/><use href="#S" x="37"/><use href="#O" x="38"/><use href="#O" x="39"/><use href="#O" x="40"/><use href="#O" x="41"/><use href="#E" x="42"/><use href="#E" x="43"/><use href="#O" x="44"/><use href="#D" x="45"/><use href="#S" x="46"/><use href="#C" x="47"/><use href="#L" x="48"/><use href="#L" x="49"/><use href="#L" x="50"/><use href="#W" x="51"/><use href="#K" x="52"/><use href="#R" x="53"/><use href="#R" x="54"/><use href="#W" x="55"/></g>
<g transform="translate(0 29)"><use href="#B"/><use href="#B" x="1"/><use href="#B" x="2"/><use href="#B" x="3"/><use href="#B" x="4"/><use href="#T" x="5"/><use href="#T" x="6"/><use href="#V" x="7"/><use href="#C" x="8"/><use href="#S" x="9"/><use href="#E" x="10"/><use href="#X" x="11"/><use href="#M" x="12"/><use href="#S" x="13"/><use href="#M" x="14"/><use href="#S" x="15"/><use href="#S" x="16"/><use href="#V" x="17"/><use href="#V" x="18"/><use href="#V" x="19"/><use href="#V" x="20"/><use href="#B" x="21"/><use href="#B" x="22"/><use href="#B" x="23"/><use href="#V" x="24"/><use href="#B" x="25"/><use href="#V" x="26"/><use href="#S" x="27"/><use href="#V" x="28"/><use href="#X" x="29"/><use href="#X" x="30"/><use href="#H" x="31"/><use href="#H" x="32"/><use href="#H" x="33"/><use href="#V" x="34"/><use href="#S" x="35"/><use href="#O" x="36"/><use href="#O" x="37"/><use href="#S" x="38"/><use href="#S" x="39"/><use href="#S" x="40"/><use href="#S" x="41"/><use href="#S" x="42"/><use href="#V" x="43"/><use href="#V" x="44"/><use href="#V" x="45"/><use href="#V" x="46"/><use href="#C" x="47"/><use href="#L" x="48"/><use href="#L" x="49"/><use href="#L" x="50"/><use href="#K" x="51"/><use href="#K" x="52"/><use href="#W" x="53"/><use href="#R" x="54"/><use href="#K" x="55"/></g>
</g>
<path fill="none" stroke="#000" stroke-width="3" d="M57 34.5H1329M57 261.3H1329M57 488.1H1329M57 714.9H1329M148.7 33V716.5M375.5 33V716.5M602.3 33V716.5M829.1 33V716.5M1283 33V716.5"/>
<path fill="none" stroke="#670000" stroke-width="3" d="M1056 34V717M1041 5H1072L1056.500 32ZM1056.500 719L1041 745H1072Z"/>
<g class="g" text-anchor="middle"><text x="148.700" y="28">60</text><text x="375.500" y="28">70</text><text x="602.300" y="28">80</text><text x="829.100" y="28">90</text><text x="1056" y="28">100</text><text x="1283" y="28">110</text></g>
<g class="g" text-anchor="end"><text x="50" y="43">170</text><text x="50" y="270">180</text><text x="50" y="497">190</text><text x="50" y="723">200</text></g>
</svg>
